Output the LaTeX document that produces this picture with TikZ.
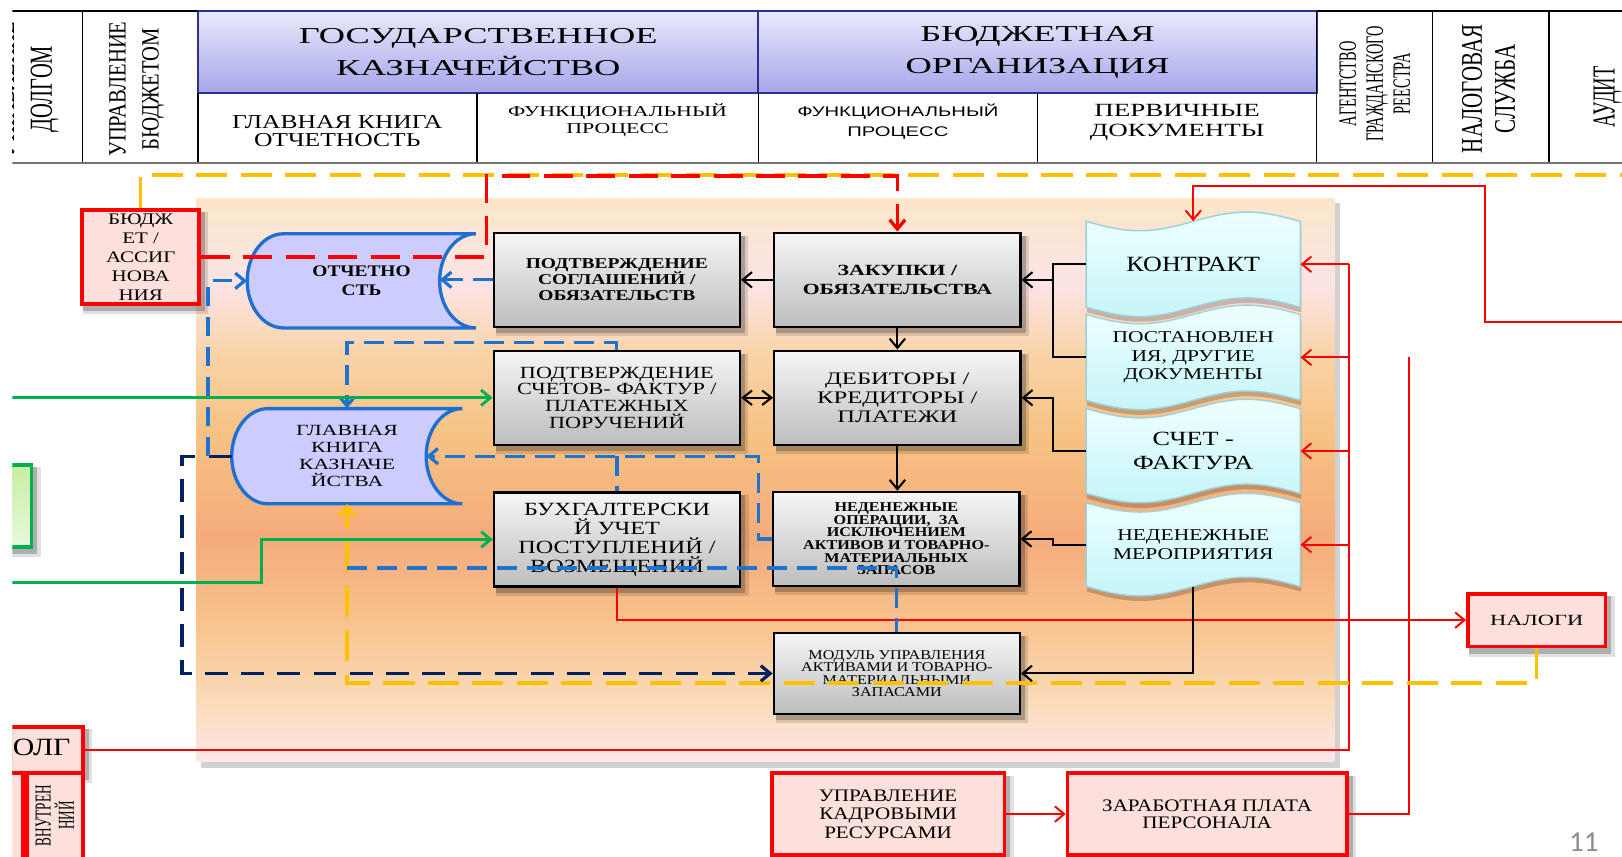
\documentclass[tikz,border=0pt]{standalone}
\usepackage{fontspec}
\setmainfont{Liberation Serif}
\newfontfamily\fqHdr[FakeStretch=1.6]{Liberation Serif}
\newfontfamily\fqA[FakeStretch=1.2]{Liberation Serif}
\newfontfamily\fqB[FakeStretch=1.3]{Liberation Serif}
\newfontfamily\fqC[FakeStretch=1.4]{Liberation Serif}
\newfontfamily\fqD[FakeStretch=1.45]{Liberation Serif}
\newfontfamily\fqSans[FakeStretch=1.45]{Liberation Sans}
\newfontfamily\fqRA[FakeStretch=0.58]{Liberation Serif}
\newfontfamily\fqRB[FakeStretch=0.64]{Liberation Serif}
\newfontfamily\fqRC[FakeStretch=0.7]{Liberation Serif}
\newfontfamily\fqRD[FakeStretch=0.83]{Liberation Serif}
\newfontfamily\fqNum{Carlito}
\newcommand\fqs[2]{\fontsize{#1}{#2}\selectfont}
\usetikzlibrary{arrows.meta,calc}
\pgfdeclarelayer{bgl}
\pgfdeclarelayer{shl}
\pgfsetlayers{bgl,shl,main}

\definecolor{rfill}{HTML}{FDE0DB}
\definecolor{myred}{HTML}{FF0000}
\definecolor{myyel}{HTML}{FFC000}
\definecolor{myblue}{RGB}{31,114,206}
\definecolor{mynavy}{HTML}{002060}
\definecolor{mygreen}{HTML}{00B050}
\definecolor{sdfill}{HTML}{CCCCFF}
\definecolor{sdline}{HTML}{1E6FD2}
\definecolor{gtop}{HTML}{F6F6F6}
\definecolor{gbot}{HTML}{BDBDBD}
\definecolor{dtop}{HTML}{EEFFFF}
\definecolor{dbot}{HTML}{C6F5F9}
\definecolor{dline}{HTML}{9FD0DA}
\definecolor{htop}{HTML}{E9E9FB}
\definecolor{hbot}{HTML}{A6A6EA}
\definecolor{hline}{HTML}{2E3192}
\definecolor{p1}{HTML}{FBE6C9}
\definecolor{p2}{HTML}{FCE4E6}
\definecolor{p3}{HTML}{F9D3A6}
\definecolor{p4}{HTML}{F7C283}
\definecolor{p5}{HTML}{F5AB7B}
\definecolor{p6}{HTML}{F8C28C}
\definecolor{p7}{HTML}{FBDCBB}
\definecolor{p8}{HTML}{FCE7EA}
\definecolor{grtop}{HTML}{C4EFA0}
\definecolor{grbot}{HTML}{EAF8DE}

\pgfdeclareverticalshading{panelshade}{100bp}{color(0bp)=(p8); color(25bp)=(p8); color(30.1bp)=(p7); color(37.5bp)=(p6); color(44.9bp)=(p5); color(54bp)=(p4); color(60.9bp)=(p3); color(67.4bp)=(p2); color(75bp)=(p1); color(100bp)=(p1)}

\tikzset{
  myarr/.style={-{Straight Barb[length=9pt,width=15pt]}},
  myarrb/.style={{Straight Barb[length=9pt,width=14pt]}-{Straight Barb[length=9pt,width=14pt]}},
  blk/.style={draw=black,line width=2pt},
  rl/.style={draw=myred,line width=1.9pt},
  rd/.style={draw=myred,line width=3.2pt,dash pattern=on 28pt off 13pt},
  yl/.style={draw=myyel,line width=3.5pt,dash pattern=on 30pt off 13pt},
  bl/.style={draw=myblue,line width=3.1pt,dash pattern=on 19pt off 10pt},
  nv/.style={draw=mynavy,line width=3.1pt,dash pattern=on 22pt off 13pt},
  gr/.style={draw=mygreen,line width=2.8pt},
  hl/.style={draw=black,line width=1.2pt},
  txt/.style={inner sep=0pt,align=center},
  gbox/.style={draw=black,line width=2.2pt,top color=gtop,bottom color=gbot,minimum width=238pt,minimum height=91pt,inner sep=0pt,align=center},
  rbox/.style={draw=myred,line width=3.6pt,fill=rfill,inner sep=0pt,align=center},
  hcell/.style={draw=hline,line width=1.6pt,top color=htop,bottom color=hbot,inner sep=0pt,align=center,font=\fqHdr\fqs{22}{31}},
  sdata/.style={fill=sdfill,draw=sdline,line width=3.2pt},
  docst/.style={top color=dtop,bottom color=dbot,draw=dline,line width=1.4pt},
  docsh/.style={fill=black,opacity=0.2},
}

\newcommand\docshape[4]{%
  \fill[docsh,shift={(1,5)}] (#1,#2) sin ({#1+(#3-#1)/4},{#2+9}) cos ({(#1+#3)/2},#2) sin ({#1+3*(#3-#1)/4},{#2-9}) cos (#3,#2) -- (#3,#4) sin ({#3-(#3-#1)/4},{#4-9}) cos ({(#1+#3)/2},#4) sin ({#1+(#3-#1)/4},{#4+9}) cos (#1,#4) -- cycle;
  \path[docst] (#1,#2) sin ({#1+(#3-#1)/4},{#2+9}) cos ({(#1+#3)/2},#2) sin ({#1+3*(#3-#1)/4},{#2-9}) cos (#3,#2) -- (#3,#4) sin ({#3-(#3-#1)/4},{#4-9}) cos ({(#1+#3)/2},#4) sin ({#1+(#3-#1)/4},{#4+9}) cos (#1,#4) -- cycle;
}

\begin{document}
\begin{tikzpicture}[x=1pt,y=-1pt]
\useasboundingbox (0,0) rectangle (1568,827.5);
\begin{pgfonlayer}{bgl}
  \fill[white] (0,0) rectangle (1568,827.5);
  \fill[black,opacity=0.18] (194,196) rectangle (1295,742);
  \shade[shading=panelshade] (190,192) rectangle (1290,736);
\end{pgfonlayer}
\clip (12,0) rectangle (1568,827.5);

% ---------- header ----------
\node[hcell,minimum width=541.5,minimum height=79.4] (gkz) at (462.25,50.3) {ГОСУДАРСТВЕННОЕ\\КАЗНАЧЕЙСТВО};
\node[hcell,minimum width=540,minimum height=79.4] (borg) at (1003,50.3) {БЮДЖЕТНАЯ\\ОРГАНИЗАЦИЯ};
\draw[hl] (12,10.6) -- (191.5,10.6);
\draw[hl] (1273,10.6) -- (1568,10.6);
\draw[hl] (80,10.6) -- (80,157.6);
\draw[hl] (191.5,90) -- (191.5,157.6);
\draw[hl] (461,90) -- (461,157.6);
\draw[hl] (733,90) -- (733,157.6);
\draw[hl] (1003,90) -- (1003,157.6);
\draw[hl] (1273,10.6) -- (1273,157.6);
\draw[hl] (1385,10.6) -- (1385,157.6);
\draw[hl] (1497.5,10.6) -- (1497.5,157.6);
\draw[draw=black!55,line width=2pt] (12,157.6) -- (1568,157.6);

\node[txt,font=\fqB\fqs{19}{17.7}] (h1) at (326,126.5) {ГЛАВНАЯ КНИГА\\ОТЧЕТНОСТЬ};
\node[txt,font=\fqD\fqs{14.6}{16}] (h2) at (597,116) {ФУНКЦИОНАЛЬНЫЙ\\ПРОЦЕСС};
\node[txt,font=\fqSans\fqs{13.5}{19}] (h3) at (868,117.5) {ФУНКЦИОНАЛЬНЫЙ\\ПРОЦЕСС};
\node[txt,font=\fqD\fqs{18}{19.6}] (h4) at (1138,118) {ПЕРВИЧНЫЕ\\ДОКУМЕНТЫ};

\node[txt,rotate=90,font=\fqRB\fqs{31}{36.6}] (c1) at (25,86) {УПРАВЛЕНИЕ\\ДОЛГОМ};
\node[txt,rotate=90,font=\fqRD\fqs{24}{32}] (c2) at (132,86) {УПРАВЛЕНИЕ\\БЮДЖЕТОМ};
\node[txt,rotate=90,font=\fqRA\fqs{24}{26}] (c3) at (1329,81) {АГЕНТСТВО\\ГРАЖДАНСКОГО\\РЕЕСТРА};
\node[txt,rotate=90,font=\fqRC\fqs{29}{32}] (c4) at (1439,86) {НАЛОГОВАЯ\\СЛУЖБА};
\node[txt,rotate=90,font=\fqRA\fqs{31}{34}] (c5) at (1554,93.5) {АУДИТ};

% ---------- stored data shapes ----------
\path[sdata] (274,226) -- (460,226) .. controls (440.67,226) and (425,246.37) .. (425,271.5) .. controls (425,296.63) and (440.67,317) .. (460,317) -- (274,317) .. controls (254.67,317) and (239,296.63) .. (239,271.5) .. controls (239,246.37) and (254.67,226) .. (274,226) -- cycle;
\node[txt,minimum width=221,minimum height=91,font=\fqA\bfseries\fqs{15.6}{18}] (otch) at (349.5,271.5) {ОТЧЕТНО\\СТЬ};
\path[sdata] (259,395) -- (447,395) .. controls (427.67,395) and (412,415.6) .. (412,441) .. controls (412,466.4) and (427.67,487) .. (447,487) -- (259,487) .. controls (239.67,487) and (224,466.4) .. (224,441) .. controls (224,415.6) and (239.67,395) .. (259,395) -- cycle;
\node[txt,minimum width=223,minimum height=92,font=\fqC\fqs{15}{16.3}] (glav) at (335.5,441) {ГЛАВНАЯ\\КНИГА\\КАЗНАЧЕ\\ЙСТВА};

% ---------- process boxes ----------
\node[gbox,font=\fqB\bfseries\fqs{14.5}{15.5}] (sogl) at (596.3,270.5) {ПОДТВЕРЖДЕНИЕ\\СОГЛАШЕНИЙ /\\ОБЯЗАТЕЛЬСТВ};
\node[gbox,font=\fqC\bfseries\fqs{15}{17.8}] (zak) at (867.5,270.5) {ЗАКУПКИ /\\ОБЯЗАТЕЛЬСТВА};
\node[gbox,font=\fqB\fqs{16.5}{16.2}] (schet) at (596.3,384.5) {ПОДТВЕРЖДЕНИЕ\\СЧЕТОВ- ФАКТУР /\\ПЛАТЕЖНЫХ\\ПОРУЧЕНИЙ};
\node[gbox,font=\fqC\fqs{17}{18}] (deb) at (867.5,384.5) {ДЕБИТОРЫ /\\КРЕДИТОРЫ /\\ПЛАТЕЖИ};
\node[gbox,font=\fqB\fqs{18}{18.3}] (buh) at (596.5,521.5) {БУХГАЛТЕРСКИ\\Й УЧЕТ\\ПОСТУПЛЕНИЙ /\\ВОЗМЕЩЕНИЙ};
\node[gbox,font=\fqA\bfseries\fqs{13}{12.2}] (nop) at (866.5,521) {НЕДЕНЕЖНЫЕ\\ОПЕРАЦИИ,\ \ ЗА\\ИСКЛЮЧЕНИЕМ\\АКТИВОВ И ТОВАРНО-\\МАТЕРИАЛЬНЫХ\\ЗАПАСОВ};
\node[gbox,minimum height=78,font=\fqA\fqs{13}{12.1}] (mod) at (867,651) {МОДУЛЬ УПРАВЛЕНИЯ\\АКТИВАМИ И ТОВАРНО-\\МАТЕРИАЛЬНЫМИ\\ЗАПАСАМИ};

% ---------- documents ----------
\docshape{1050}{486}{1257}{567}
\node[txt,minimum width=207,minimum height=81,font=\fqB\fqs{16}{18}] (nmer) at (1153.5,526.5) {НЕДЕНЕЖНЫЕ\\МЕРОПРИЯТИЯ};
\docshape{1050}{395}{1257}{477}
\node[txt,minimum width=207,minimum height=82,font=\fqB\fqs{19.5}{22.6}] (scf) at (1153.5,436) {СЧЕТ -\\ФАКТУРА};
\docshape{1050}{304}{1257}{387}
\node[txt,minimum width=207,minimum height=83,font=\fqB\fqs{16}{18}] (post) at (1153.5,345.5) {ПОСТАНОВЛЕН\\ИЯ, ДРУГИЕ\\ДОКУМЕНТЫ};
\docshape{1050}{214}{1257}{297}
\node[txt,minimum width=207,minimum height=83,font=\fqA\fqs{21}{24}] (kontr) at (1153.5,255.5) {КОНТРАКТ};

% ---------- red boxes ----------
\node[rbox,minimum width=113,minimum height=91,font=\fqB\fqs{15.6}{18.3}] (bud) at (136,248.5) {БЮДЖ\\ЕТ /\\АССИГ\\НОВА\\НИЯ};
\node[rbox,minimum width=133,minimum height=51,font=\fqD\fqs{15}{16}] (nal) at (1485.5,599.5) {НАЛОГИ};
\node[rbox,minimum width=225,minimum height=79,font=\fqA\fqs{17}{18}] (kadr) at (858.5,787) {УПРАВЛЕНИЕ\\КАДРОВЫМИ\\РЕСУРСАМИ};
\node[rbox,minimum width=270,minimum height=79,font=\fqA\fqs{17}{17}] (zp) at (1167,787) {ЗАРАБОТНАЯ ПЛАТА\\ПЕРСОНАЛА};
\node[rbox,minimum width=99,minimum height=44,font=\fqA\fqs{24}{26}] (dolg) at (30.5,725) {ДОЛГ};
\node[rbox,minimum width=36,minimum height=83] (vnesh) at (4,788.5) {};
\node[rbox,rotate=90,minimum width=83,minimum height=54,font=\fqRA\fqs{22}{22.4}] (vn) at (53,788.5) {ВНУТРЕН\\НИЙ};
\node[draw=mygreen,line width=3.5pt,top color=grtop,bottom color=grbot,minimum width=40.5,minimum height=79.5,inner sep=0pt] (grn) at (10.25,489.25) {};

\node[font=\fqNum\fqs{28}{30},text=black!45,inner sep=0pt] (pg) at (1531,814) {11};

% ---------- shadows ----------
\begin{pgfonlayer}{shl}
\clip (12,0) rectangle (1568,827.5);
\foreach \nm in {sogl,zak,schet,deb,buh,nop,mod,bud,nal,kadr,zp,dolg,grn} {
  \fill[black,opacity=0.12] ([shift={(3,8)}]\nm.south west) rectangle ([shift={(7,4)}]\nm.north east);
  \fill[black,opacity=0.22] ([shift={(3,5)}]\nm.south west) rectangle ([shift={(4,4)}]\nm.north east);
}
\end{pgfonlayer}

% ---------- coordinates ----------
\coordinate (yTop) at (1568,169);
\coordinate (rdTop) at (0,170);
\coordinate (rdX) at (470,0);
\coordinate (rEdge) at (1568,311);
\coordinate (rX1) at (1436,0);
\coordinate (rY1) at (0,180);
\coordinate (rV1) at (1304,0);
\coordinate (rV2top) at (1362,345);
\coordinate (jK) at (1018,0);
\coordinate (bX) at (201,0);
\coordinate (nX) at (176,0);
\coordinate (bY1) at (0,331);
\coordinate (bY2) at (0,549);
\coordinate (bX2) at (733,0);
\coordinate (yBot) at (0,660);
\coordinate (otchC) at (425,0);
\coordinate (glavC) at (412,441);
\coordinate (gL1) at (12,384.5);
\coordinate (gL2) at (12,563.5);
\coordinate (gX) at (253,0);

% ---------- connectors ----------
\draw[yl] (bud.north) -- (bud.north |- yTop) -- (yTop);
\draw[rd,myarr] (bud.east) -- (bud.east -| rdX) -- (rdX |- rdTop) -| (zak.north);

\draw[rl,myarr] (rEdge) -- (rEdge -| rX1) -- (rX1 |- rY1) -| (kontr.north);
\draw[rl] (dolg.east) -- (dolg.east -| rV1) -- (kontr.east -| rV1);
\foreach \dd in {kontr,post,scf,nmer} \draw[rl,myarr] (\dd.east -| rV1) -- (\dd.east);
\draw[rl] (zp.east) -| (rV2top);
\draw[rl,myarr] (kadr.east) -- (zp.west);
\draw[rl,myarr] (buh.south) |- (nal.west);

\draw[yl,myarr] (nal.south) |- (glav.south |- yBot) -- (glav.south);

\draw[blk,myarr] (zak.west) -- (sogl.east);
\draw[blk,myarr] (zak.south) -- (deb.north);
\draw[blk,myarr] (deb.south) -- (deb.south |- nop.north);
\draw[blk,myarrb] (schet.east) -- (deb.west);
\draw[blk] (kontr.west) -- (kontr.west -| jK) -- (post.west -| jK) -- (post.west);
\draw[blk,myarr] (zak.east -| jK) -- (zak.east);
\draw[blk,myarr] (scf.west) -- (scf.west -| jK) |- (deb.east);
\draw[blk,myarr] (nmer.west) -- (nmer.west -| jK) |- (nop.east);
\draw[blk,myarr] (nmer.south) |- (mod.east);

\draw[nv,myarr] (glav.west) -- (glav.west -| nX) |- (mod.west);
\draw[bl,myarr] (glav.west -| bX) |- (otch.west);
\draw[bl,myarr] (sogl.west) -- (sogl.west -| otchC);
\draw[bl,myarr] (schet.north) -- (schet.north |- bY1) -| (glav.north);
\draw[bl,myarr] (nop.west) -- (nop.west -| bX2) |- (glavC);
\draw[bl] (buh.north |- glavC) -- (buh.north);
\draw[bl] (glav.south |- bY2) -- (mod.north |- bY2) -- (mod.north);

\draw[gr,myarr] (gL1) -- (schet.west);
\draw[gr,myarr] (gL2) -| (gX |- buh.west) -- (buh.west);
\end{tikzpicture}
\end{document}
